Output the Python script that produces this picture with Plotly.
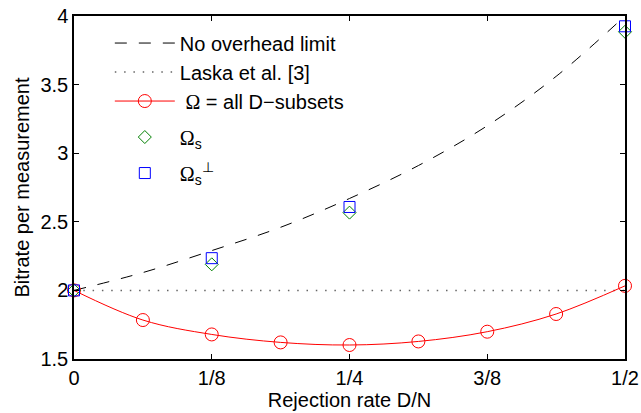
import plotly.graph_objects as go

# Data
x_grid = [0, 1/16, 2/16, 3/16, 4/16, 5/16, 6/16, 7/16, 8/16]
no_overhead = [2.0, 2.13, 2.29, 2.46, 2.67, 2.91, 3.20, 3.56, 4.0]
laska_x = [0, 0.5]
laska_y = [2.0, 2.0]
omega_all = [2.0, 1.784, 1.679, 1.621, 1.602, 1.628, 1.699, 1.828, 2.033]
sub_x = [0, 1/8, 1/4, 1/2]
omega_s = [2.0, 2.19, 2.567, 3.885]
omega_s_perp = [2.0, 2.235, 2.608, 3.925]

x_tickvals = [0, 1/8, 1/4, 3/8, 1/2]
x_ticktext = ["0", "1/8", "1/4", "3/8", "1/2"]
y_tickvals = [1.5, 2, 2.5, 3, 3.5, 4]
y_ticktext = ["1.5", "2", "2.5", "3", "3.5", "4"]

OM = "<span style=\"font-family:'Liberation Serif'\">Ω</span>"

fig = go.Figure()
fig.add_trace(go.Scatter(x=x_grid, y=no_overhead, mode="lines", name="No overhead limit",
                         legendgroup="a",
                         line=dict(color="black", width=1, dash="12px,12px", shape="spline")))
fig.add_trace(go.Scatter(x=laska_x, y=laska_y, mode="lines", name="Laska et al. [3]",
                         legendgroup="a",
                         line=dict(color="#666666", width=1.5, dash="1.5px,7.8px")))
fig.add_trace(go.Scatter(x=x_grid, y=omega_all, mode="lines+markers", name=" " + OM + " = all D−subsets",
                         legendgroup="a",
                         line=dict(color="red", width=1, shape="spline"),
                         marker=dict(symbol="circle-open", size=13, color="red", line=dict(width=1)),
                         cliponaxis=False))
fig.add_trace(go.Scatter(x=sub_x, y=omega_s, mode="markers", name=OM + "<sub>s</sub>",
                         legendgroup="b",
                         marker=dict(symbol="diamond-open", size=10, color="green", line=dict(width=1)),
                         cliponaxis=False))
fig.add_trace(go.Scatter(x=sub_x, y=omega_s_perp, mode="markers", name=OM + "<sub>s</sub><sup>⊥</sup>",
                         legendgroup="c",
                         marker=dict(symbol="square-open", size=11, color="blue", line=dict(width=1)),
                         cliponaxis=False))

axis_common = dict(showline=True, linecolor="black", linewidth=1.5, mirror="ticks",
                   ticks="inside", ticklen=5, tickcolor="black", showgrid=False, zeroline=False,
                   automargin=False,
                   tickfont=dict(size=20, color="black", family="Liberation Sans"))
fig.update_xaxes(range=[0, 0.5], tickvals=x_tickvals, ticktext=x_ticktext,
                 title=dict(text="Rejection rate D/N", font=dict(size=20, color="black"), standoff=2),
                 **axis_common)
fig.update_yaxes(range=[1.5, 4], tickvals=y_tickvals, ticktext=y_ticktext,
                 title=dict(text="Bitrate per measurement", font=dict(size=20, color="black"), standoff=5),
                 **axis_common)

fig.update_layout(
    width=641, height=413,
    margin=dict(l=74, r=16, t=16, b=54, autoexpand=False),
    plot_bgcolor="white", paper_bgcolor="white",
    font=dict(family="Liberation Sans", size=20, color="black"),
    legend=dict(x=0.065, y=0.978, xanchor="left", yanchor="top", bgcolor="rgba(0,0,0,0)",
                itemwidth=60, font=dict(size=20), tracegroupgap=7, traceorder="grouped"),
)

fig.write_html("out.html", config={"displayModeBar": False},
               post_script="document.body.style.margin='0px';")
